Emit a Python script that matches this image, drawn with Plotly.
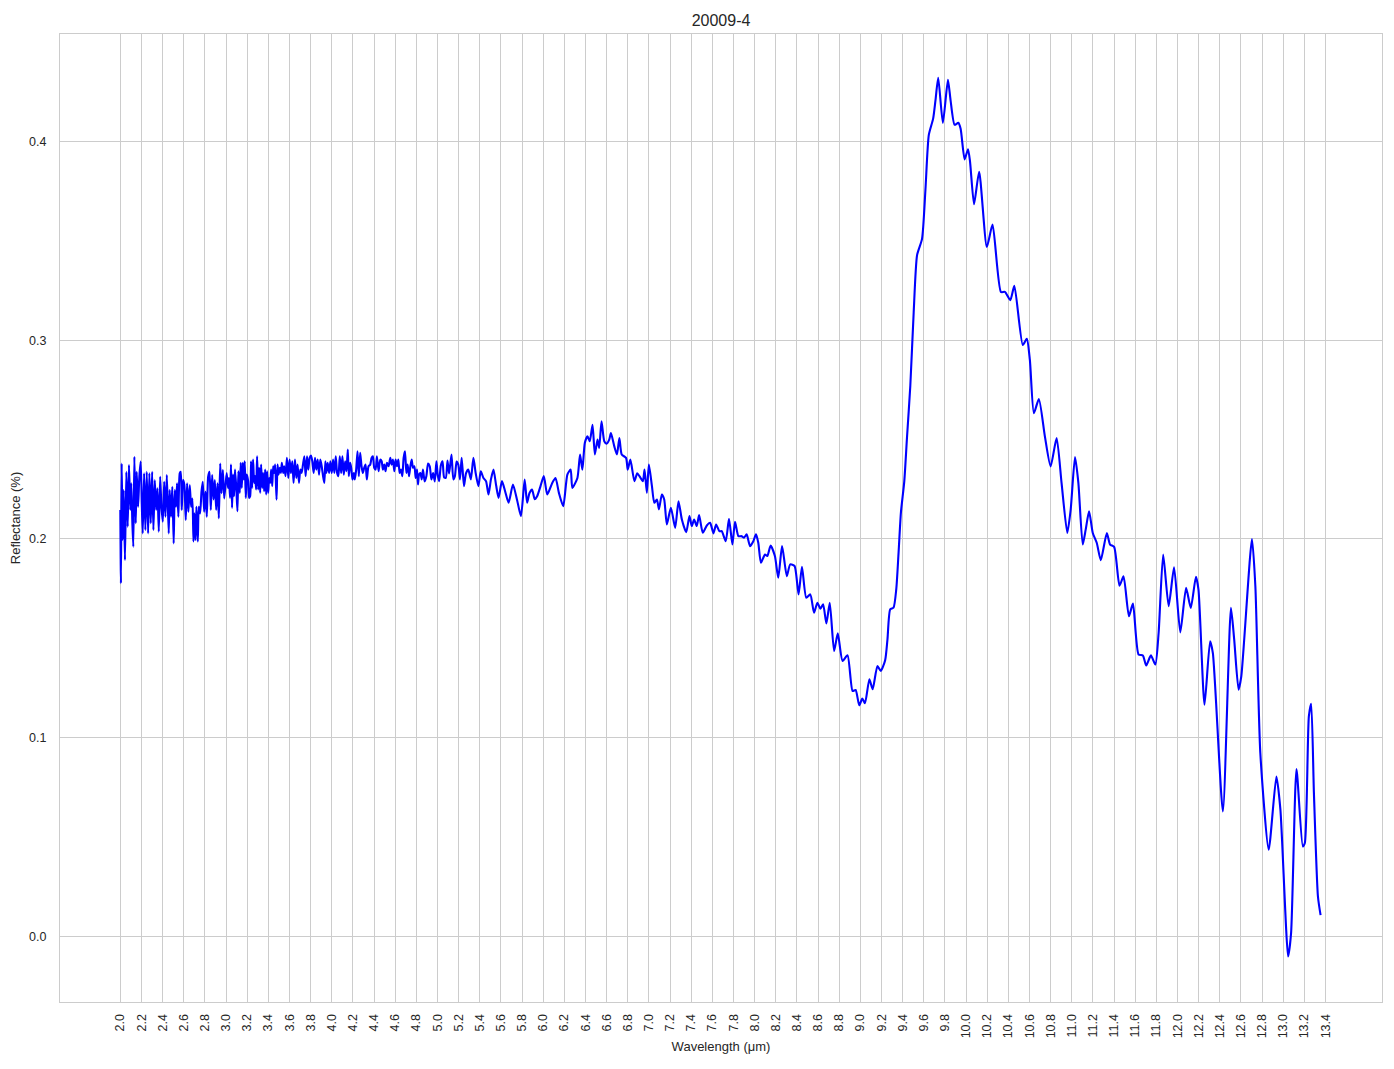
import plotly.graph_objects as go

# ---------------- data ----------------
wavelength_um = [
    2.000, 2.006, 2.013, 2.022, 2.032, 2.044, 2.057, 2.070, 2.082, 2.095,
    2.104, 2.114, 2.123, 2.133, 2.146, 2.155, 2.168, 2.180, 2.193, 2.203,
    2.212, 2.225, 2.237, 2.250, 2.263, 2.275, 2.288, 2.301, 2.313, 2.326,
    2.339, 2.351, 2.364, 2.377, 2.389, 2.402, 2.415, 2.427, 2.440,
    2.458, 2.467, 2.480, 2.492, 2.505, 2.515, 2.527, 2.537, 2.549, 2.562,
    2.572, 2.581, 2.594, 2.606, 2.619, 2.632, 2.644, 2.657, 2.670, 2.682,
    2.692, 2.701, 2.711, 2.720, 2.733, 2.742, 2.755, 2.768, 2.780, 2.793,
    2.806, 2.818, 2.831, 2.844, 2.856, 2.869, 2.882, 2.894, 2.907, 2.920,
    2.932, 2.945, 2.957, 2.970, 2.983,
    3.006, 3.019, 3.028, 3.038, 3.047, 3.057, 3.066, 3.076, 3.085, 3.098,
    3.108, 3.117, 3.130, 3.139, 3.149, 3.158, 3.168, 3.177, 3.187, 3.196,
    3.209, 3.218, 3.228, 3.237, 3.247, 3.256, 3.266, 3.275, 3.285, 3.294,
    3.304, 3.313, 3.323, 3.332, 3.342, 3.351, 3.361, 3.370, 3.380, 3.389,
    3.399, 3.408, 3.418, 3.427, 3.437, 3.446, 3.456, 3.465, 3.478, 3.487,
    3.497, 3.509, 3.519, 3.528, 3.541, 3.551, 3.563, 3.576, 3.589, 3.601,
    3.614, 3.627, 3.639, 3.652, 3.665, 3.677, 3.690, 3.703, 3.715, 3.728,
    3.741, 3.753, 3.766, 3.778, 3.791, 3.804, 3.816, 3.829, 3.842, 3.854,
    3.867, 3.880, 3.892, 3.905, 3.918, 3.930,
    3.940, 3.949, 3.962, 3.975, 3.987, 4.000, 4.013, 4.025, 4.038, 4.051,
    4.063, 4.076, 4.089, 4.101, 4.114, 4.127, 4.139, 4.152, 4.161, 4.174,
    4.184, 4.196, 4.209, 4.218, 4.231, 4.244, 4.256, 4.269, 4.282, 4.294,
    4.307, 4.320, 4.332, 4.348, 4.364, 4.377, 4.389, 4.402, 4.415, 4.427,
    4.443, 4.459, 4.472, 4.484, 4.497, 4.509, 4.522, 4.538, 4.554, 4.566,
    4.579, 4.592, 4.604, 4.617, 4.630, 4.642, 4.655, 4.668, 4.680, 4.693,
    4.706, 4.718, 4.731, 4.744, 4.756, 4.769, 4.782, 4.794, 4.807, 4.816,
    4.826, 4.839,
    4.851, 4.863, 4.879, 4.895, 4.911, 4.927, 4.943, 4.959, 4.975, 4.990,
    5.003, 5.016, 5.032, 5.048, 5.063, 5.079, 5.095, 5.110, 5.133, 5.150,
    5.165, 5.181, 5.197, 5.213, 5.229, 5.251, 5.270, 5.292, 5.316, 5.340,
    5.362, 5.387, 5.410, 5.435, 5.460, 5.483, 5.506, 5.530, 5.555, 5.578,
    5.610, 5.640, 5.673, 5.714, 5.752, 5.790, 5.825, 5.848, 5.870, 5.895,
    5.920, 5.943, 5.975, 6.006, 6.038, 6.062, 6.086, 6.117, 6.149, 6.190,
    6.229, 6.260, 6.276, 6.324, 6.349, 6.371, 6.394, 6.419, 6.441, 6.467,
    6.489, 6.514, 6.530, 6.552, 6.578, 6.600, 6.625, 6.641, 6.673, 6.698,
    6.721, 6.743, 6.784, 6.800, 6.825, 6.863, 6.890, 6.911, 6.943, 6.959,
    6.981,
    7.000, 7.029, 7.051, 7.076, 7.095, 7.123, 7.145, 7.170, 7.208, 7.249,
    7.280, 7.312, 7.353, 7.384, 7.406, 7.428, 7.453, 7.475, 7.510, 7.548,
    7.579, 7.611, 7.636, 7.667, 7.689, 7.727, 7.758, 7.790, 7.815, 7.847,
    7.878, 7.900, 7.925, 7.957, 7.988, 8.013, 8.035, 8.060, 8.098, 8.120,
    8.152, 8.192, 8.224,
    8.260, 8.305, 8.337, 8.378, 8.416, 8.448, 8.489, 8.527, 8.562, 8.594,
    8.622, 8.648, 8.679, 8.711, 8.752, 8.787, 8.832, 8.879, 8.927, 8.956,
    8.990, 9.019, 9.044, 9.086, 9.117, 9.162, 9.194, 9.235, 9.257, 9.283,
    9.314, 9.340, 9.362, 9.384, 9.416,
    9.441, 9.473, 9.505, 9.537, 9.584, 9.616, 9.648, 9.689, 9.711, 9.737,
    9.781, 9.829, 9.854, 9.892, 9.927, 9.949, 9.987, 10.019, 10.038, 10.076,
    10.124, 10.197, 10.251, 10.330, 10.368, 10.419, 10.457, 10.537, 10.575,
    10.604, 10.642, 10.689, 10.746, 10.800, 10.857, 10.904, 10.958, 10.990,
    11.031, 11.063, 11.104, 11.132, 11.164, 11.199, 11.237, 11.275, 11.332,
    11.363, 11.401, 11.452, 11.490, 11.541, 11.579, 11.632, 11.673, 11.705,
    11.749, 11.791, 11.822, 11.865, 11.917, 11.968, 12.027, 12.082, 12.126,
    12.175, 12.199, 12.256, 12.309, 12.335, 12.430, 12.506, 12.537, 12.578,
    12.604, 12.705, 12.737, 12.784, 12.863, 12.936, 12.974, 13.047, 13.075,
    13.126, 13.186, 13.205, 13.243, 13.265, 13.291, 13.329, 13.354,
]

reflectance = [
    0.2146, 0.1777, 0.2380, 0.1995, 0.2246, 0.1894, 0.2338, 0.2062, 0.2372, 0.2146,
    0.2280, 0.2079, 0.1961, 0.2414, 0.2079, 0.2338, 0.2162, 0.2313, 0.2389, 0.2179,
    0.2028, 0.2330, 0.2045, 0.2338, 0.2028, 0.2330, 0.2079, 0.2338, 0.2045, 0.2296,
    0.2146, 0.2255, 0.2037, 0.2313, 0.2162, 0.2087, 0.2288, 0.2112, 0.2322,
    0.2028, 0.2246, 0.2112, 0.2263, 0.1978, 0.2246, 0.2162, 0.2280, 0.2112, 0.2330,
    0.2338, 0.2146, 0.2296, 0.2271, 0.2095, 0.2280, 0.2137, 0.2271, 0.2162, 0.2204,
    0.1987, 0.2129, 0.1995, 0.2162, 0.1987, 0.2162, 0.2129, 0.2238, 0.2288, 0.2137,
    0.2238, 0.2112, 0.2313, 0.2338, 0.2146, 0.2322, 0.2199, 0.2296, 0.2146, 0.2280,
    0.2104, 0.2380, 0.2230, 0.2347, 0.2204,
    0.2332, 0.2257, 0.2307, 0.2207, 0.2374, 0.2157, 0.2324, 0.2215, 0.2349, 0.2249,
    0.2140, 0.2341, 0.2232, 0.2383, 0.2257, 0.2383, 0.2299, 0.2391, 0.2207, 0.2324,
    0.2291, 0.2207, 0.2215, 0.2391, 0.2257, 0.2399, 0.2282, 0.2316, 0.2249, 0.2416,
    0.2249, 0.2358, 0.2232, 0.2374, 0.2257, 0.2332, 0.2240, 0.2349, 0.2224, 0.2341,
    0.2232, 0.2307, 0.2282, 0.2349, 0.2266, 0.2366, 0.2332, 0.2374, 0.2198, 0.2374,
    0.2324, 0.2358, 0.2332, 0.2383, 0.2332, 0.2366, 0.2316, 0.2408, 0.2307, 0.2399,
    0.2332, 0.2391, 0.2282, 0.2399, 0.2307, 0.2374, 0.2282, 0.2349, 0.2332, 0.2374,
    0.2416, 0.2316, 0.2416, 0.2349, 0.2408, 0.2420, 0.2391, 0.2332, 0.2408, 0.2349,
    0.2399, 0.2324, 0.2399, 0.2366, 0.2316, 0.2282,
    0.2391, 0.2332, 0.2383, 0.2332, 0.2391, 0.2332, 0.2399, 0.2332, 0.2416, 0.2332,
    0.2316, 0.2416, 0.2332, 0.2416, 0.2324, 0.2391, 0.2341, 0.2450, 0.2316, 0.2383,
    0.2358, 0.2299, 0.2332, 0.2299, 0.2349, 0.2441, 0.2316, 0.2433, 0.2366, 0.2332,
    0.2358, 0.2374, 0.2299, 0.2366, 0.2374, 0.2408, 0.2416, 0.2358, 0.2349, 0.2416,
    0.2341, 0.2399, 0.2391, 0.2349, 0.2374, 0.2341, 0.2383, 0.2366, 0.2408, 0.2374,
    0.2399, 0.2341, 0.2399, 0.2366, 0.2399, 0.2332, 0.2349, 0.2316, 0.2408, 0.2441,
    0.2332, 0.2374, 0.2316, 0.2366, 0.2399, 0.2358, 0.2366, 0.2307, 0.2349, 0.2274,
    0.2324, 0.2332,
    0.2300, 0.2349, 0.2290, 0.2316, 0.2380, 0.2366, 0.2300, 0.2332, 0.2290, 0.2391,
    0.2320, 0.2291, 0.2370, 0.2391, 0.2310, 0.2307, 0.2395, 0.2330, 0.2425, 0.2300,
    0.2316, 0.2390, 0.2374, 0.2300, 0.2408, 0.2266, 0.2330, 0.2349, 0.2300, 0.2408,
    0.2330, 0.2266, 0.2340, 0.2307, 0.2290, 0.2224, 0.2300, 0.2349, 0.2270, 0.2207,
    0.2291, 0.2240, 0.2182, 0.2274, 0.2199, 0.2115, 0.2299, 0.2182, 0.2230, 0.2249,
    0.2200, 0.2215, 0.2266, 0.2316, 0.2224, 0.2250, 0.2282, 0.2307, 0.2232, 0.2165,
    0.2324, 0.2349, 0.2257, 0.2307, 0.2425, 0.2349, 0.2483, 0.2517, 0.2492, 0.2575,
    0.2425, 0.2500, 0.2458, 0.2592, 0.2492, 0.2480, 0.2500, 0.2533, 0.2466, 0.2425,
    0.2508, 0.2425, 0.2408, 0.2349, 0.2399, 0.2291, 0.2330, 0.2316, 0.2291, 0.2349,
    0.2232,
    0.2374, 0.2266, 0.2182, 0.2199, 0.2149, 0.2224, 0.2199, 0.2073, 0.2157, 0.2056,
    0.2190, 0.2098, 0.2034, 0.2115, 0.2065, 0.2098, 0.2065, 0.2120, 0.2031, 0.2068,
    0.2081, 0.2028, 0.2073, 0.2039, 0.2039, 0.1989, 0.2101, 0.1972, 0.2086, 0.2014,
    0.2014, 0.2006, 0.2023, 0.1964, 0.1989, 0.2023, 0.1981, 0.1880, 0.1922, 0.1914,
    0.1967, 0.1914, 0.1805,
    0.1964, 0.1813, 0.1872, 0.1864, 0.1721, 0.1860, 0.1704, 0.1721, 0.1629, 0.1679,
    0.1649, 0.1671, 0.1575, 0.1679, 0.1436, 0.1525, 0.1386, 0.1415, 0.1235, 0.1240,
    0.1163, 0.1197, 0.1173, 0.1294, 0.1244, 0.1361, 0.1336, 0.1390, 0.1495, 0.1646,
    0.1654, 0.1746, 0.1931, 0.2132, 0.2290,
    0.2505, 0.2771, 0.3141, 0.3428, 0.3510, 0.3756, 0.4033, 0.4115, 0.4207, 0.4320,
    0.4094, 0.4310, 0.4207, 0.4084, 0.4094, 0.4064, 0.3910, 0.3961, 0.3899, 0.3684,
    0.3848, 0.3469, 0.3582, 0.3243, 0.3243, 0.3202, 0.3274, 0.2976, 0.3007,
    0.2901, 0.2633, 0.2704, 0.2516, 0.2365, 0.2508, 0.2281, 0.2030, 0.2147,
    0.2412, 0.2281, 0.1972, 0.2047, 0.2139, 0.2030, 0.1980, 0.1893, 0.2030,
    0.1972, 0.1960, 0.1765, 0.1812, 0.1611, 0.1675, 0.1419, 0.1414, 0.1363,
    0.1414, 0.1368, 0.1528, 0.1921, 0.1662, 0.1857, 0.1530, 0.1754, 0.1653,
    0.1810, 0.1745, 0.1166, 0.1485, 0.1426, 0.0629, 0.1653, 0.1493, 0.1242,
    0.1309, 0.2000, 0.1762, 0.0923, 0.0436, 0.0805, 0.0638, -0.0101, 0.0017,
    0.0842, 0.0453, 0.0470, 0.1107, 0.1171, 0.0721, 0.0201, 0.0107,
]

x_tick_labels = [
    "2.0", "2.2", "2.4", "2.6", "2.8", "3.0", "3.2", "3.4", "3.6", "3.8",
    "4.0", "4.2", "4.4", "4.6", "4.8", "5.0", "5.2", "5.4", "5.6", "5.8",
    "6.0", "6.2", "6.4", "6.6", "6.8", "7.0", "7.2", "7.4", "7.6", "7.8",
    "8.0", "8.2", "8.4", "8.6", "8.8", "9.0", "9.2", "9.4", "9.6", "9.8",
    "10.0", "10.2", "10.4", "10.6", "10.8", "11.0", "11.2", "11.4", "11.6", "11.8",
    "12.0", "12.2", "12.4", "12.6", "12.8", "13.0", "13.2", "13.4",
]
y_tick_labels = ["0.0", "0.1", "0.2", "0.3", "0.4"]

title_text = "20009-4"
x_title = "Wavelength (μm)"
y_title = "Reflectance (%)"

# ---------------- figure ----------------
FONT = "Liberation Sans, Arial, Helvetica, sans-serif"
TXT = "#262626"
GRID = "#cccccc"

# the page body adds an 8 px margin around the figure
FIG_W, FIG_H = 1378, 1053

fig = go.Figure()
fig.add_trace(go.Scatter(
    x=wavelength_um, y=reflectance, mode="lines",
    line=dict(color="#0000ff", width=2.1, shape="spline", smoothing=0.6),
    showlegend=False, hoverinfo="x+y",
))

fig.update_layout(
    width=FIG_W, height=FIG_H,
    margin=dict(l=52, r=4, t=26, b=59, autoexpand=False),
    paper_bgcolor="white", plot_bgcolor="white",
    font=dict(family=FONT, size=13, color=TXT),
    title=dict(text=title_text, x=0.5, xref="paper", xanchor="center",
               y=1 - 12 / FIG_H, yref="container", yanchor="middle",
               font=dict(family=FONT, size=16, color=TXT)),
)

fig.update_xaxes(
    range=[1.4295, 13.935],
    tickmode="array",
    tickvals=[float(t) for t in x_tick_labels],
    ticktext=x_tick_labels,
    tickangle=-90,
    ticks="", ticklabelstandoff=6,
    showgrid=True, gridcolor=GRID, gridwidth=1,
    showline=True, linecolor=GRID, linewidth=1, mirror=True,
    zeroline=False, automargin=False,
    tickfont=dict(family=FONT, size=12.5, color=TXT),
    title=dict(text=x_title, font=dict(family=FONT, size=13, color=TXT), standoff=4),
)
fig.update_yaxes(
    range=[-0.033, 0.4541],
    tickmode="array",
    tickvals=[float(t) for t in y_tick_labels],
    ticktext=y_tick_labels,
    ticks="", ticklabelstandoff=10,
    showgrid=True, gridcolor=GRID, gridwidth=1,
    showline=True, linecolor=GRID, linewidth=1, mirror=True,
    zeroline=False, automargin=False,
    tickfont=dict(family=FONT, size=12.5, color=TXT),
    title=dict(text=y_title, font=dict(family=FONT, size=13, color=TXT), standoff=12),
)

fig.write_html("out.html")
